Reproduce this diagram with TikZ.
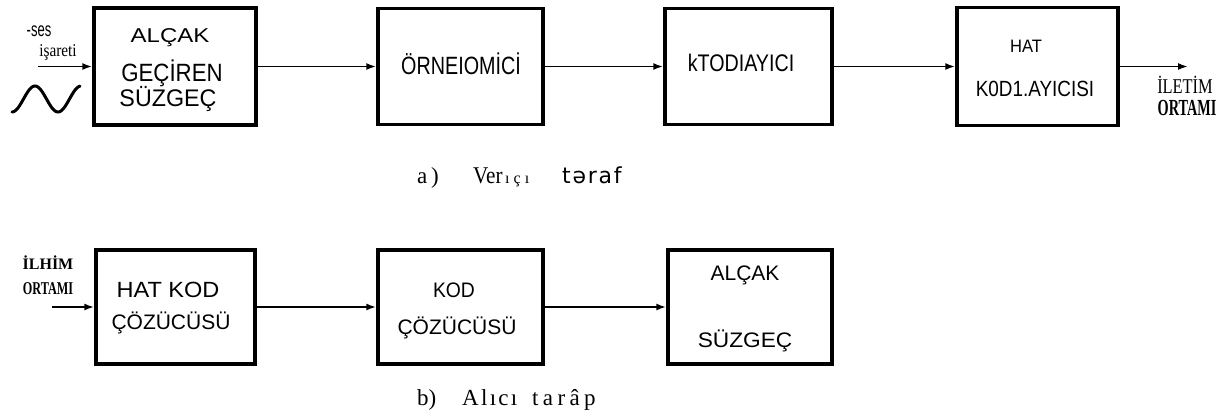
\documentclass[tikz,border=0pt]{standalone}
\usepackage{fontspec}
\usepackage{graphicx}
\setmainfont{Liberation Serif}
\setsansfont{Liberation Sans}
\newfontfamily\ar{Liberation Sans}
\newfontfamily\dv{DejaVu Sans}
\newfontfamily\tm{Liberation Serif}
\usetikzlibrary{arrows.meta}
\newcommand\fs[1]{\fontsize{#1}{#1}\selectfont}
\newcommand\sx[2]{\scalebox{#1}[1]{#2}}
\tikzset{
  blk/.style={draw, line width=3.4pt, minimum width=#1, inner sep=0pt},
  conn/.style={line width=1.9pt, -{Latex[length=10pt,width=7pt]}},
  lab/.style={inner sep=0pt, anchor=base, font=\ar},
  slab/.style={inner sep=0pt, anchor=base, font=\tm},
}
\begin{document}
\begin{tikzpicture}[x=1pt,y=-1pt]
\useasboundingbox (0,0) rectangle (1231,419);
% ---------- top row ----------
\node[blk=162pt, minimum height=117pt] (b1) at (175,66.5) {};
\node[blk=165pt, minimum height=116pt] (b2) at (460.5,66.5) {};
\node[blk=167pt, minimum height=116pt] (b3) at (748.5,66.5) {};
\node[blk=161pt, minimum height=118pt] (b4) at (1037.5,66.5) {};
% labels in boxes
\node[lab] (t1a) at (170,43) {\fs{20}\sx{1.2}{ALÇAK}};
\node[lab] (t1b) at (172,82) {\fs{25}\sx{0.89}{GEÇİREN}};
\node[lab] (t1c) at (168,107) {\fs{24}\sx{0.97}{SÜZGEÇ}};
\node[lab] (t2) at (461,75) {\fs{25}\sx{0.79}{ÖRNEIOMİCİ}};
\node[lab] (t3) at (741,72) {\fs{24}\sx{0.82}{kTODIAYICI}};
\node[lab] (t4a) at (1026,53) {\fs{18}\sx{0.92}{HAT}};
\node[lab] (t4b) at (1035,97) {\fs{22}\sx{0.86}{K0D1.AYICISI}};
% input
\coordinate (in1) at (38,66.5);
\node[lab] (ses) at (39,37) {\fs{20}\sx{0.65}{-ses}};
\node[slab] (isa) at (58,57) {\fs{18}\sx{0.85}{işareti}};
\draw[line width=3pt, line cap=round] plot[domain=12:80, samples=60] (\x,{99-13*sin(-90+(\x-12)*180/23)});
\draw[conn] (in1) -- (b1.west);
\draw[conn] (b1.east) -- (b2.west);
\draw[conn] (b2.east) -- (b3.west);
\draw[conn] (b3.east) -- (b4.west);
\coordinate (out1) at (1188,66.5);
\draw[conn] (b4.east) -- (out1);
\node[slab] (ilt) at (1185,94) {\fs{21}\sx{0.78}{İLETİM}};
\node[slab] (ort1) at (1187,116) {\fs{23}\bfseries\sx{0.62}{ORTAMI}};
% caption a
\node[slab, anchor=base west] (ca1) at (417,184) {\fs{23}a\,)};
\node[slab, anchor=base west] (ca2) at (473,184) {\fs{24}\sx{0.88}{Ver}};
\node[slab, anchor=base west] (ca2b) at (505,184) {\fs{16}\addfontfeature{LetterSpace=25}ıçı};
\node[lab, anchor=base west] (ca3) at (562,184) {\dv\fs{22}\addfontfeature{LetterSpace=8}təraf};
% ---------- bottom row ----------
\node[blk=159pt, minimum height=114pt] (b5) at (175.5,307) {};
\node[blk=165pt, minimum height=114pt] (b6) at (460.5,307) {};
\node[blk=164pt, minimum height=114pt] (b7) at (750,307) {};
\node[lab] (t5a) at (168,298) {\fs{22}\sx{1.07}{HAT KOD}};
\node[lab] (t5b) at (171,330) {\fs{21}ÇÖZÜCÜSÜ};
\node[lab] (t6a) at (454,298) {\fs{21}\sx{0.92}{KOD}};
\node[lab] (t6b) at (457,335) {\fs{21}ÇÖZÜCÜSÜ};
\node[lab] (t7a) at (745,281) {\fs{21}ALÇAK};
\node[lab] (t7b) at (745,348) {\fs{21}\sx{1.08}{SÜZGEÇ}};
\coordinate (in2) at (52,307);
\node[slab] (ilh) at (48,270) {\fs{16}\bfseries İLHİM};
\node[slab] (ort2) at (48,295) {\fs{18}\bfseries\sx{0.68}{ORTAMI}};
\draw[conn] (in2) -- (b5.west);
\draw[conn] (b5.east) -- (b6.west);
\draw[conn] (b6.east) -- (b7.west);
% caption b
\node[slab, anchor=base west] (cb1) at (417,405) {\fs{23}b)};
\node[slab, anchor=base west] (cb2) at (462,405) {\fs{23}\addfontfeature{LetterSpace=10}Alıcı};
\node[slab, anchor=base west] (cb3) at (532,405) {\fs{23}\addfontfeature{LetterSpace=19}tarâp};
\end{tikzpicture}
\end{document}
